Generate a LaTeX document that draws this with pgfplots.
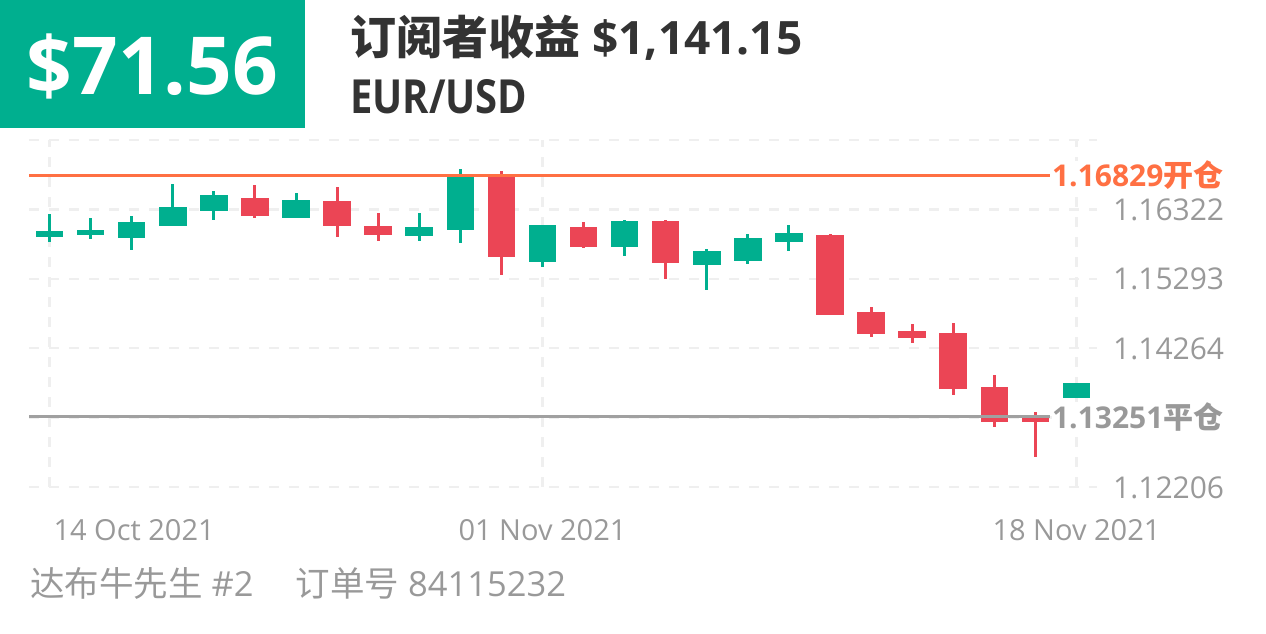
\documentclass[border=0pt]{standalone}
\usepackage{pgfplots}
\pgfplotsset{compat=1.18}
\usepackage{pgfplotstable}
\usepackage{fontspec}
\setmainfont{Open Sans}
\newfontfamily\narrowfont{Open Sans}[FakeStretch=0.85]
\newfontfamily\cjk{Noto Sans CJK SC}
\definecolor{cgreen}{HTML}{00AF8F}
\definecolor{cred}{HTML}{EB4555}
\definecolor{corange}{HTML}{FF7043}
\definecolor{cgrayline}{HTML}{A0A0A0}
\definecolor{cgrid}{HTML}{EFEFEF}
\definecolor{ctext}{HTML}{333333}
\definecolor{clabel}{HTML}{999999}

\pgfplotstableread{
x o h l c
0 1.15907 1.16248 1.15842 1.16001
1 1.15942 1.16189 1.15882 1.16016
2 1.15893 1.16223 1.15719 1.16134
3 1.16079 1.16697 1.16075 1.16352
4 1.16301 1.16588 1.16164 1.16534
6 1.16198 1.16559 1.16195 1.16460
9 1.15927 1.16263 1.15853 1.16056
10 1.16011 1.16919 1.15828 1.16855
12 1.15546 1.16090 1.15463 1.16085
14 1.15768 1.16164 1.15631 1.16149
16 1.15497 1.15734 1.15132 1.15700
17 1.15561 1.15952 1.15508 1.15897
18 1.15833 1.16090 1.15705 1.15967
25 1.13533 1.13750 1.13533 1.13750
}\greentab

\pgfplotstableread{
x o h l c
5 1.16489 1.16677 1.16198 1.16223
7 1.16445 1.16652 1.15907 1.16079
8 1.16070 1.16263 1.15853 1.15942
11 1.16834 1.16899 1.15354 1.15620
13 1.16056 1.16138 1.15753 1.15768
15 1.16144 1.16164 1.15290 1.15523
19 1.15946 1.15952 1.14750 1.14753
20 1.14806 1.14880 1.14436 1.14476
21 1.14525 1.14628 1.14338 1.14421
22 1.14486 1.14643 1.13573 1.13657
23 1.13695 1.13864 1.13103 1.13177
24 1.13251 1.13325 1.12644 1.13177
}\redtab

\pgfplotsset{
  candle/.style n args={2}{only marks, mark=*, mark options={draw opacity=0, fill opacity=0},
    error bars/.cd, y dir=both, y explicit, error mark=none,
    error bar style={line width=#1, draw=#2, solid}},
}

\begin{document}
\begin{tikzpicture}[x=1pt,y=1pt]
\useasboundingbox (0,0) rectangle (1266,633);
\fill[cgreen] (0,505) rectangle (305,633);
\node[anchor=base, text=white, inner sep=0pt] at (152.5,538) {\fontsize{80}{96}\selectfont\bfseries \$71.56};
\node[anchor=base west, text=ctext, inner sep=0pt] at (350,578) {\fontsize{46}{55}\selectfont\bfseries{\cjk 订阅者收益} \$1,141.15};
\node[anchor=base west, text=ctext, inner sep=0pt] at (350,519) {\fontsize{47}{56}\selectfont\narrowfont\bfseries EUR/USD};
\node[anchor=base west, text=clabel, inner sep=0pt] at (30,37) {\fontsize{34.5}{40}\selectfont{\cjk 达布牛先生} \#2\hspace{42pt}{\cjk 订单号} 84115232};

\begin{axis}[at={(29pt,146pt)}, anchor=south west, scale only axis,
  width=1068pt, height=347pt,
  xmin=-0.5, xmax=25.5, ymin=1.12206, ymax=1.17351,
  clip=false, axis line style={draw=none}, major tick length=0pt,
  xtick={0,12,25},
  xticklabels={{\rlap{\hspace*{4pt}14 Oct 2021}},{01 Nov 2021},{18 Nov 2021}},
  ytick={1.12206,1.13235,1.14264,1.15293,1.16322,1.17351},
  yticklabels={1.12206,,1.14264,1.15293,1.16322,},
  yticklabel pos=right,
  grid=major,
  major grid style={cgrid, line width=2.5pt, dash pattern=on 10pt off 10pt},
  xticklabel style={font=\fontsize{29}{35}\selectfont, text=clabel, anchor=base, inner sep=0pt, yshift=-53pt},
  yticklabel style={font=\fontsize{30}{36}\selectfont, text=clabel, anchor=base west, inner sep=0pt, xshift=16pt, yshift=-11pt},
]
% wicks
\addplot[candle={3pt}{cgreen}]
  table[x=x, y expr={(\thisrow{h}+\thisrow{l})/2}, y error expr={(\thisrow{h}-\thisrow{l})/2}] {\greentab};
\addplot[candle={3pt}{cred}]
  table[x=x, y expr={(\thisrow{h}+\thisrow{l})/2}, y error expr={(\thisrow{h}-\thisrow{l})/2}] {\redtab};
% bodies
\addplot[candle={27.5pt}{cgreen}]
  table[x=x, y expr={(\thisrow{o}+\thisrow{c})/2}, y error expr={abs(\thisrow{c}-\thisrow{o})/2}] {\greentab};
\addplot[candle={27.5pt}{cred}]
  table[x=x, y expr={(\thisrow{o}+\thisrow{c})/2}, y error expr={abs(\thisrow{c}-\thisrow{o})/2}] {\redtab};
% open / close lines
\addplot[corange, line width=2.7pt, mark=none] coordinates {(-0.5,1.16829) (24.35,1.16829)}
  node[pos=1, anchor=west, inner sep=0pt, xshift=1pt, fill=white, text=corange,
       font=\fontsize{30}{36}\selectfont\bfseries] {1.16829{\cjk 开仓}};
\addplot[cgrayline, line width=2.7pt, mark=none] coordinates {(-0.5,1.13251) (24.35,1.13251)}
  node[pos=1, anchor=west, inner sep=0pt, xshift=1pt, fill=white, text=clabel,
       font=\fontsize{30}{36}\selectfont\bfseries] {1.13251{\cjk 平仓}};
\end{axis}
\end{tikzpicture}
\end{document}
